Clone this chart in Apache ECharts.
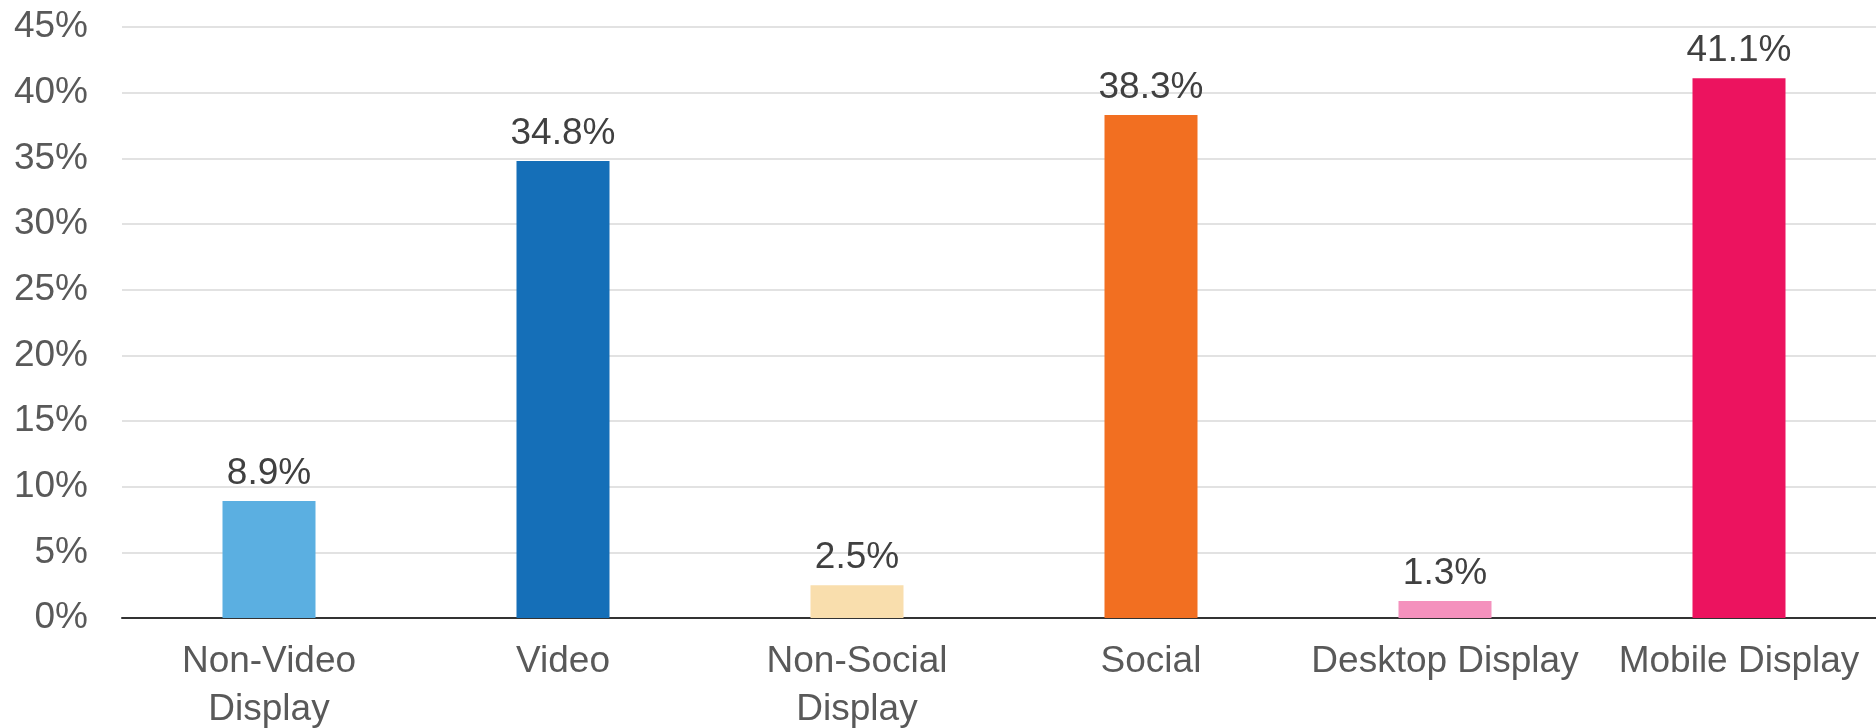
<!DOCTYPE html>
<html>
<head>
<meta charset="utf-8">
<script src="https://cdn.jsdelivr.net/npm/echarts@6/dist/echarts.min.js"></script>
<style>
html,body{margin:0;padding:0;background:#fff;}
#chart{width:1876px;height:728px;}
</style>
</head>
<body>
<div id="chart"></div>
<script>
const categories = ["Non-Video\nDisplay", "Video", "Non-Social\nDisplay", "Social", "Desktop Display", "Mobile Display"];
const values = [8.9, 34.8, 2.5, 38.3, 1.3, 41.1];
const barColors = ["#5BAFE1", "#156FB8", "#F9DEAD", "#F26F21", "#F491BD", "#EC135F"];
const yTicks = [0, 5, 10, 15, 20, 25, 30, 35, 40, 45];

const chart = echarts.init(document.getElementById('chart'), null, {renderer: 'canvas'});
chart.setOption({
  animation: false,
  backgroundColor: '#ffffff',
  grid: {left: 122, right: -10, top: 27, bottom: 110, containLabel: false, outerBoundsMode: 'none'},
  xAxis: {
    type: 'category',
    data: categories,
    axisLine: {show: true, lineStyle: {color: '#333333', width: 2}},
    axisTick: {show: false},
    axisLabel: {
      interval: 0,
      margin: 20,
      color: '#595959',
      fontFamily: '"Liberation Sans", Arial, sans-serif',
      fontSize: 37,
      lineHeight: 48
    }
  },
  yAxis: {
    type: 'value',
    min: yTicks[0],
    max: yTicks[yTicks.length - 1],
    interval: yTicks[1] - yTicks[0],
    axisLine: {show: false},
    axisTick: {show: false},
    splitLine: {show: true, lineStyle: {color: '#d9d9d9', width: 1.5}},
    axisLabel: {
      margin: 34,
      padding: [5, 0, 0, 0],
      color: '#595959',
      fontFamily: '"Liberation Sans", Arial, sans-serif',
      fontSize: 37,
      formatter: '{value}%'
    }
  },
  series: [{
    type: 'bar',
    barWidth: 93,
    data: values.map((v, i) => ({value: v, itemStyle: {color: barColors[i]}})),
    label: {
      show: true,
      position: 'top',
      distance: 9,
      color: '#404040',
      fontFamily: '"Liberation Sans", Arial, sans-serif',
      fontSize: 37,
      formatter: p => p.value.toFixed(1) + '%'
    },
    z: 3
  }]
});
</script>
</body>
</html>
